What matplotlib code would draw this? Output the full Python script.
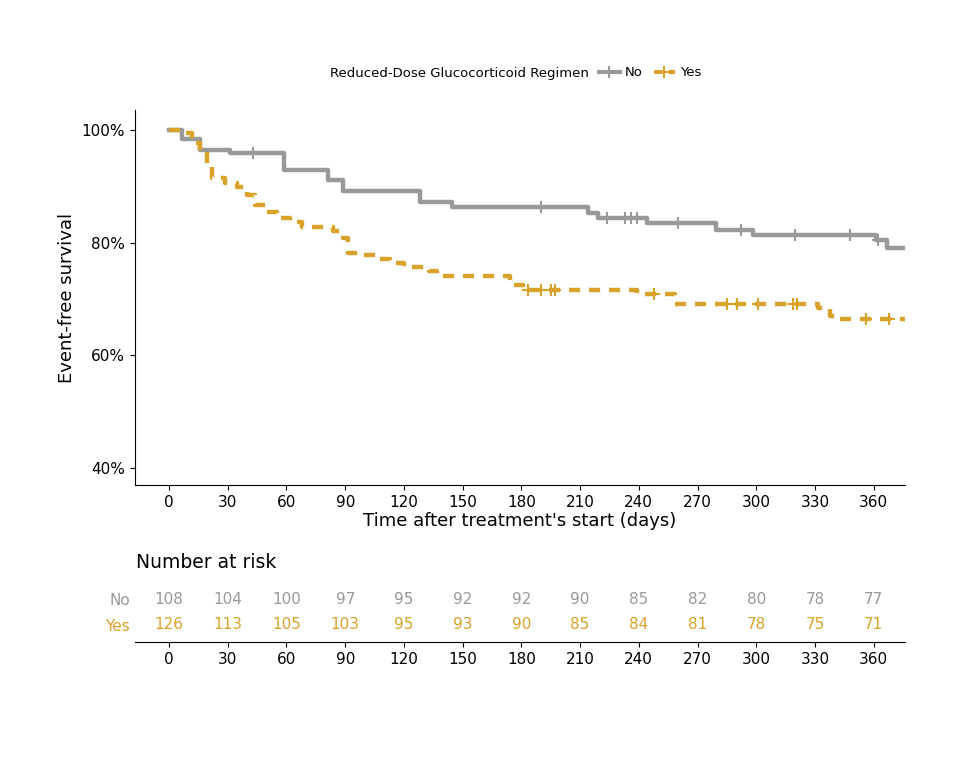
import matplotlib
matplotlib.use("Agg")
import matplotlib.pyplot as plt
import numpy as np
from matplotlib.lines import Line2D

no_t = [0, 6.6, 16, 31, 58.8, 81, 89, 128, 144.7, 214, 219, 244, 279.6, 298.5, 361.4, 367, 376]
no_s = [100, 98.4, 96.4, 95.8, 92.8, 91.0, 89.1, 87.2, 86.3, 85.2, 84.4, 83.5, 82.2, 81.4, 80.5, 79.1, 79.1]
no_cens = [43, 190, 224, 233, 236, 239, 260, 292, 320, 347.7, 362]

yes_t = [0, 6.5, 11.6, 15.9, 19.3, 21.8, 28.6, 34.6, 39.7, 44, 50, 55, 61.9, 68, 84, 89, 91.6, 99, 106, 113, 119.8,
         133, 137, 174, 181, 239, 258.7, 331.8, 337.9, 343, 376]
yes_s = [100, 99.4, 97.6, 96.1, 93.8, 91.4, 90.5, 89.8, 88.5, 86.7, 85.5, 84.3, 83.6, 82.8, 82.1, 80.8, 78.2, 77.8,
         77.1, 76.3, 75.6, 74.9, 74.1, 72.5, 71.6, 70.9, 69.1, 68.4, 66.9, 66.4, 66.4]
yes_cens = [183.5, 190, 195, 197, 247.6, 285, 290, 301, 319, 321, 356, 368]

risk_times = [0, 30, 60, 90, 120, 150, 180, 210, 240, 270, 300, 330, 360]
risk_no = [108, 104, 100, 97, 95, 92, 92, 90, 85, 82, 80, 78, 77]
risk_yes = [126, 113, 105, 103, 95, 93, 90, 85, 84, 81, 78, 75, 71]

GRAY = "#999999"
GOLD = "#D9A22B"

def lookup(t, s, x):
    i = np.searchsorted(t, x, side="right") - 1
    return s[i]

fig = plt.figure(figsize=(9.6, 7.65), dpi=100)
W, H = 960, 765
ax = fig.add_axes([135 / W, 1 - 485 / H, 770 / W, 375 / H])
ax.step(no_t, no_s, where="post", color=GRAY, lw=3.2)
ax.step(yes_t, yes_s, where="post", color=GOLD, lw=3.2, ls=(0, (2.5, 2)))
ax.plot(no_cens, [lookup(no_t, no_s, c) for c in no_cens], "+", color=GRAY, ms=9, mew=1.5)
ax.plot(yes_cens, [lookup(yes_t, yes_s, c) for c in yes_cens], "+", color=GOLD, ms=9, mew=1.5)
ax.set_xlim(-17.4, 376)
ax.set_ylim(37, 103.5)
ax.set_xticks(risk_times)
ax.set_yticks([40, 60, 80, 100])
ax.set_yticklabels(["40%", "60%", "80%", "100%"])
for sp in ["top", "right"]:
    ax.spines[sp].set_visible(False)
ax.tick_params(labelsize=11, colors="black")
ax.set_xlabel("Time after treatment's start (days)", fontsize=13, labelpad=2)
ax.set_ylabel("Event-free survival", fontsize=13)

handles = [Line2D([], [], color=GRAY, lw=3, marker="+", ms=9, mew=1.5),
           Line2D([], [], color=GOLD, lw=3, ls=(0, (2, 1.5)), marker="+", ms=9, mew=1.5)]
fig.legend(handles, ["No", "Yes"], title="Reduced-Dose Glucocorticoid Regimen", loc="center",
           bbox_to_anchor=(520 / W, 1 - 73 / H), ncol=2, frameon=False, fontsize=9.5,
           title_fontsize=9.5, handlelength=1.6, columnspacing=0.8, handletextpad=0.4,
           alignment="left")
leg = fig.legends[0]
leg._legend_box.align = "left"
# place title inline
leg.set_title("")
fig.text(330 / W, 1 - 73 / H, "Reduced-Dose Glucocorticoid Regimen", fontsize=9.5, va="center", ha="left")
leg.set_bbox_to_anchor((650 / W, 1 - 73 / H))

rax = fig.add_axes([135 / W, 1 - 642 / H, 770 / W, 57 / H])
rax.set_xlim(-17.4, 376)
rax.set_ylim(0, 2)
for t, n in zip(risk_times, risk_no):
    rax.text(t, 1.5, str(n), color=GRAY, ha="center", va="center", fontsize=11)
for t, n in zip(risk_times, risk_yes):
    rax.text(t, 0.6, str(n), color=GOLD, ha="center", va="center", fontsize=11)
rax.set_yticks([1.5, 0.6])
rax.set_yticklabels(["No", "Yes"], fontsize=11)
for lab, c in zip(rax.get_yticklabels(), [GRAY, GOLD]):
    lab.set_color(c)
rax.tick_params(axis="y", length=0)
rax.set_xticks(risk_times)
rax.tick_params(axis="x", labelsize=11)
for sp in ["top", "right", "left"]:
    rax.spines[sp].set_visible(False)
fig.text(136 / W, 1 - 563 / H, "Number at risk", fontsize=13.5, va="center")

fig.savefig("out.png", dpi=100)
